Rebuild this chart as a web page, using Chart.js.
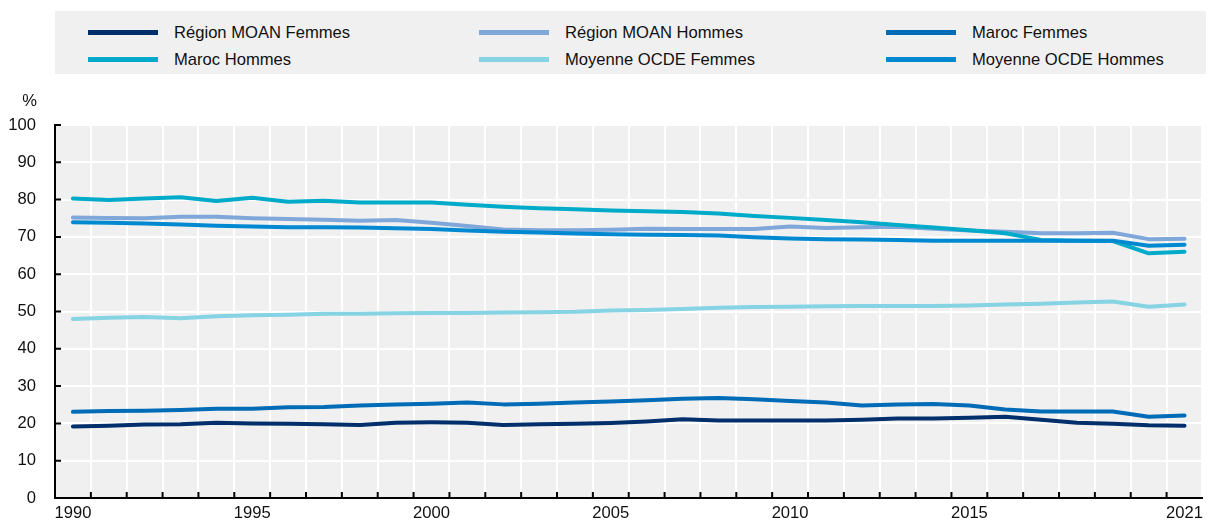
<!DOCTYPE html>
<html lang="fr">
<head>
<meta charset="utf-8">
<script src="https://cdn.jsdelivr.net/npm/chart.js@4/dist/chart.umd.min.js"></script>
<style>
  body { margin: 0; background: #fff; overflow: hidden; font-family: "Liberation Sans", Arial, sans-serif; }
  #wrap { position: relative; width: 1208px; height: 522px; }
  #chart { position: absolute; left: 0; top: 0; }
  #legende { position: absolute; left: 55px; top: 11px; width: 1151px; height: 63px; background: #f0f0f0; }
  .item { position: absolute; height: 20px; font-size: 16.6px; color: #111; white-space: nowrap; }
  .item span.trait { position: absolute; left: 0; top: 8px; width: 70px; height: 5px; }
  .item span.texte { position: absolute; left: 86px; top: 1px; line-height: 20px; }
</style>
</head>
<body>
<div id="wrap">
  <canvas id="chart" width="1208" height="522"></canvas>
  <div id="legende"></div>
</div>
<script>
// Données (%)
const annees = ['1990','1991','1992','1993','1994','1995','1996','1997','1998','1999','2000',
  '2001','2002','2003','2004','2005','2006','2007','2008','2009','2010',
  '2011','2012','2013','2014','2015','2016','2017','2018','2019','2020','2021'];
const anneesAffichees = ['1990','1995','2000','2005','2010','2015','2021'];
const graduationsY = [0, 10, 20, 30, 40, 50, 60, 70, 80, 90, 100];

const moanFemmes = [19.2, 19.4, 19.7, 19.8, 20.2, 20.0, 19.9, 19.8, 19.6, 20.2, 20.3,
  20.2, 19.6, 19.8, 19.9, 20.1, 20.5, 21.1, 20.8, 20.8, 20.8,
  20.8, 21.0, 21.3, 21.3, 21.5, 21.8, 21.0, 20.2, 19.9, 19.5, 19.4];
const moanHommes = [75.2, 75.1, 75.0, 75.4, 75.4, 75.0, 74.8, 74.6, 74.3, 74.5, 73.8,
  72.9, 72.0, 71.8, 71.8, 71.9, 72.2, 72.1, 72.1, 72.1, 72.8,
  72.4, 72.6, 72.7, 72.2, 71.7, 71.4, 71.0, 71.0, 71.1, 69.4, 69.5];
const marocFemmes = [23.1, 23.3, 23.4, 23.6, 23.9, 23.9, 24.3, 24.4, 24.8, 25.1, 25.3,
  25.6, 25.1, 25.3, 25.6, 25.9, 26.2, 26.6, 26.8, 26.5, 26.0,
  25.6, 24.8, 25.1, 25.2, 24.8, 23.7, 23.2, 23.2, 23.2, 21.8, 22.1];
const marocHommes = [80.3, 79.9, 80.3, 80.6, 79.6, 80.5, 79.4, 79.7, 79.2, 79.2, 79.2,
  78.6, 78.1, 77.7, 77.4, 77.1, 76.9, 76.7, 76.3, 75.6, 75.1,
  74.5, 73.9, 73.2, 72.5, 71.8, 71.0, 69.2, 69.0, 68.9, 65.6, 66.0];
const ocdeFemmes = [48.0, 48.3, 48.5, 48.2, 48.7, 49.0, 49.1, 49.4, 49.4, 49.5, 49.6,
  49.6, 49.7, 49.8, 49.9, 50.3, 50.4, 50.7, 51.0, 51.2, 51.3,
  51.4, 51.5, 51.5, 51.5, 51.6, 51.9, 52.1, 52.4, 52.7, 51.3, 51.9];
const ocdeHommes = [73.9, 73.8, 73.6, 73.3, 73.0, 72.8, 72.6, 72.6, 72.5, 72.3, 72.1,
  71.7, 71.4, 71.2, 70.9, 70.7, 70.6, 70.5, 70.4, 69.9, 69.6,
  69.4, 69.3, 69.2, 69.0, 69.0, 69.0, 69.0, 69.0, 69.0, 67.6, 67.9];

const series = [
  { label: 'Région MOAN Femmes', data: moanFemmes, couleur: '#002f6c' },
  { label: 'Région MOAN Hommes', data: moanHommes, couleur: '#7fa7d9' },
  { label: 'Maroc Femmes', data: marocFemmes, couleur: '#006bb6' },
  { label: 'Maroc Hommes', data: marocHommes, couleur: '#00abc9' },
  { label: 'Moyenne OCDE Femmes', data: ocdeFemmes, couleur: '#86d3e3' },
  { label: 'Moyenne OCDE Hommes', data: ocdeHommes, couleur: '#0089d0' }
];

Chart.defaults.font.family = '"Liberation Sans", Arial, sans-serif';
Chart.defaults.font.size = 16.6;
Chart.defaults.color = '#111';

// fond gris, petites graduations vers l'intérieur et le "%"
const decor = {
  id: 'decor',
  beforeDraw(chart) {
    const { ctx, chartArea: a } = chart;
    ctx.save();
    ctx.fillStyle = '#f0f0f0';
    ctx.fillRect(a.left, a.top, a.right - a.left, a.bottom - a.top);
    ctx.restore();
  },
  afterDraw(chart) {
    const { ctx, chartArea: a, scales } = chart;
    ctx.save();
    ctx.strokeStyle = '#000';
    ctx.lineWidth = 2;
    ctx.beginPath();
    graduationsY.forEach(v => {
      const y = scales.y.getPixelForValue(v);
      ctx.moveTo(a.left, y);
      ctx.lineTo(a.left + 6, y);
    });
    for (let i = 0; i < annees.length - 1; i++) {
      const x = (scales.x.getPixelForValue(i) + scales.x.getPixelForValue(i + 1)) / 2;
      ctx.moveTo(x, a.bottom);
      ctx.lineTo(x, a.bottom - 6);
    }
    ctx.stroke();
    ctx.fillStyle = '#111';
    ctx.font = '16.6px "Liberation Sans", Arial, sans-serif';
    ctx.textAlign = 'right';
    ctx.textBaseline = 'middle';
    ctx.fillText('%', 37, a.top - 24);
    ctx.restore();
  }
};

const ctx = document.getElementById('chart').getContext('2d');
new Chart(ctx, {
  type: 'line',
  data: {
    labels: annees,
    datasets: series.map((s, i) => ({
      label: s.label,
      data: s.data,
      borderColor: s.couleur,
      backgroundColor: s.couleur,
      borderWidth: 4,
      pointRadius: 0,
      tension: 0,
      borderJoinStyle: 'round',
      borderCapStyle: 'round',
      order: series.length - i
    }))
  },
  options: {
    responsive: false,
    animation: false,
    layout: { padding: { top: 125, left: 0, right: 1, bottom: 0 } },
    plugins: {
      legend: { display: false },
      tooltip: { enabled: false }
    },
    scales: {
      x: {
        type: 'category',
        offset: true,
        grid: { offset: true, color: '#fff', lineWidth: 2, drawTicks: false },
        border: { display: true, color: '#000', width: 2 },
        ticks: {
          autoSkip: false,
          maxRotation: 0,
          padding: 5,
          color: '#111',
          callback: function(value, index) {
            const a = annees[index];
            return anneesAffichees.includes(a) ? a : '';
          }
        },
        afterFit(scale) { scale.height = 24; }
      },
      y: {
        min: 0,
        max: 100,
        ticks: { stepSize: 10, padding: 3, color: '#111' },
        grid: { color: '#fff', lineWidth: 2, drawTicks: true, tickLength: 16, tickColor: 'rgba(0,0,0,0)' },
        border: { display: true, color: '#000', width: 2 },
        afterFit(scale) { scale.width = 55; }
      }
    }
  },
  plugins: [decor]
});

// légende HTML en trois colonnes
const colonnes = [88, 479, 886];
const lignes = [22, 49];
const legende = document.getElementById('legende');
series.forEach((s, i) => {
  const div = document.createElement('div');
  div.className = 'item';
  div.style.left = (colonnes[i % 3] - 55) + 'px';
  div.style.top = (lignes[Math.floor(i / 3)] - 11) + 'px';
  div.innerHTML = '<span class="trait" style="background:' + s.couleur + '"></span><span class="texte"></span>';
  div.querySelector('.texte').textContent = s.label;
  legende.appendChild(div);
});
</script>
</body>
</html>
